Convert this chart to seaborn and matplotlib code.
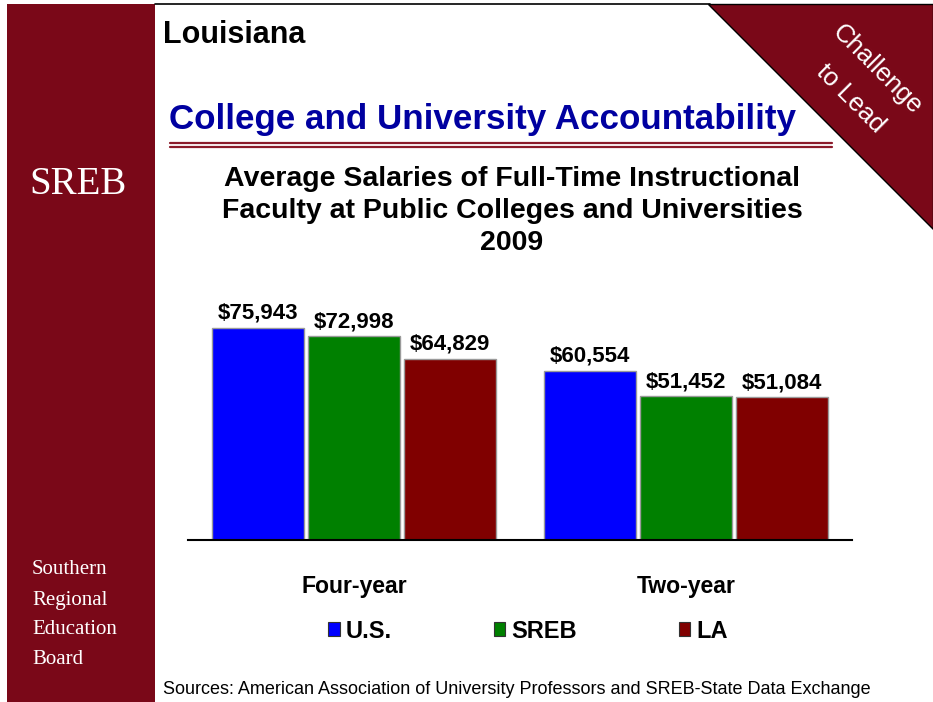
import matplotlib
matplotlib.use("Agg")
import matplotlib.pyplot as plt
from matplotlib.patches import Rectangle, Polygon, Patch
from matplotlib.lines import Line2D
import seaborn as sns
import pandas as pd

# ---- data ----
categories = ["Four-year", "Two-year"]
groups = ["U.S.", "SREB", "LA"]
us_values = [75943, 60554]
sreb_values = [72998, 51452]
la_values = [64829, 51084]
colors = ["#0000FF", "#008000", "#800000"]

rows = []
for g, vals in zip(groups, [us_values, sreb_values, la_values]):
    for c, v in zip(categories, vals):
        rows.append({"level": c, "group": g, "salary": v})
df = pd.DataFrame(rows)

sns.set_theme(style="white")
plt.rcParams["font.family"] = ["Liberation Sans", "DejaVu Sans"]
plt.rcParams["text.color"] = "black"
plt.rcParams["xtick.color"] = "black"

W, H = 933, 702
fig = plt.figure(figsize=(W / 100, H / 100), dpi=100)
fig.patch.set_facecolor("white")

def P(x, y):
    return (x / W, 1 - y / H)

MAROON = "#7A0818"

# sidebar
fig.add_artist(Rectangle(P(7, 702), 148 / W, 698 / H, transform=fig.transFigure,
                         facecolor=MAROON, edgecolor="none", zorder=0))
# top border line
fig.add_artist(Line2D([155 / W, 710 / W], [1 - 4 / H, 1 - 4 / H], transform=fig.transFigure,
                      color="black", lw=1.2))
# corner triangle
fig.add_artist(Polygon([P(708, 4), P(933, 4), P(933, 229)], closed=True,
                       transform=fig.transFigure, facecolor=MAROON,
                       edgecolor="black", lw=1.0, zorder=1))
fig.text(*P(877, 70), "Challenge", rotation=-45, color="white", fontsize=18.5,
         ha="center", va="center", rotation_mode="anchor")
fig.text(*P(850, 99), "to Lead", rotation=-45, color="white", fontsize=18.5,
         ha="center", va="center", rotation_mode="anchor")

# sidebar texts
fig.text(*P(78, 185), "SREB", color="white", fontsize=28, ha="center", va="center",
         family=["Liberation Serif", "DejaVu Serif"])
for i, t in enumerate(["Southern", "Regional", "Education", "Board"]):
    fig.text(*P(32, 570 + 30 * i), t, color="white", fontsize=15, ha="left", va="center",
             family=["Liberation Serif", "DejaVu Serif"])

# headings
fig.text(*P(163, 35), "Louisiana", fontsize=22, fontweight="bold", color="black",
         ha="left", va="center")
fig.text(*P(169, 120), "College and University Accountability", fontsize=25.2,
         fontweight="bold", color="#0000A0", ha="left", va="center")
for yy in (142.5, 146.5):
    fig.add_artist(Line2D([170 / W, 832 / W], [1 - yy / H, 1 - yy / H],
                          transform=fig.transFigure, color="#8B1A2A", lw=1.6))
fig.text(*P(512, 211), "Average Salaries of Full-Time Instructional\n"
         "Faculty at Public Colleges and Universities\n2009",
         fontsize=20.5, fontweight="bold", ha="center", va="center",
         linespacing=1.3, color="black")

# chart
ax = fig.add_axes([188 / W, 1 - 540 / H, 664 / W, 251.3 / H])
sns.barplot(data=df, x="level", y="salary", hue="group", palette=colors,
            hue_order=groups, order=categories, width=0.87, gap=0.04,
            edgecolor="#9a9a9a", linewidth=1, saturation=1, ax=ax, legend=False)
ax.set_xlim(-0.5, 1.5)
ax.set_ylim(0, 90000)
ax.set_facecolor("none")
for s in ["left", "right", "top"]:
    ax.spines[s].set_visible(False)
ax.spines["bottom"].set_color("black")
ax.spines["bottom"].set_linewidth(1.5)
ax.set_yticks([])
ax.set_xlabel("")
ax.set_ylabel("")
ax.tick_params(axis="x", length=0, pad=25)
for lbl in ax.get_xticklabels():
    lbl.set_fontweight("bold")
    lbl.set_fontsize(16.6)
    lbl.set_color("black")

for cont in ax.containers:
    ax.bar_label(cont, labels=[f"${v:,.0f}" for v in cont.datavalues],
                 padding=3, fontsize=16, fontweight="bold", color="black")

handles = [Patch(facecolor=c, edgecolor="#333333", lw=0.8) for c in colors]
leg = fig.legend(handles, groups, loc="center", bbox_to_anchor=P(528, 631), ncol=3,
                 frameon=False, prop={"weight": "bold", "size": 17},
                 handlelength=0.5, handleheight=0.5, handletextpad=0.25,
                 columnspacing=4.3)
for t in leg.get_texts():
    t.set_color("black")

fig.text(*P(163, 690), "Sources: American Association of University Professors and SREB-State Data Exchange",
         fontsize=13, ha="left", va="center", color="black")

fig.savefig("out.png", dpi=100)
